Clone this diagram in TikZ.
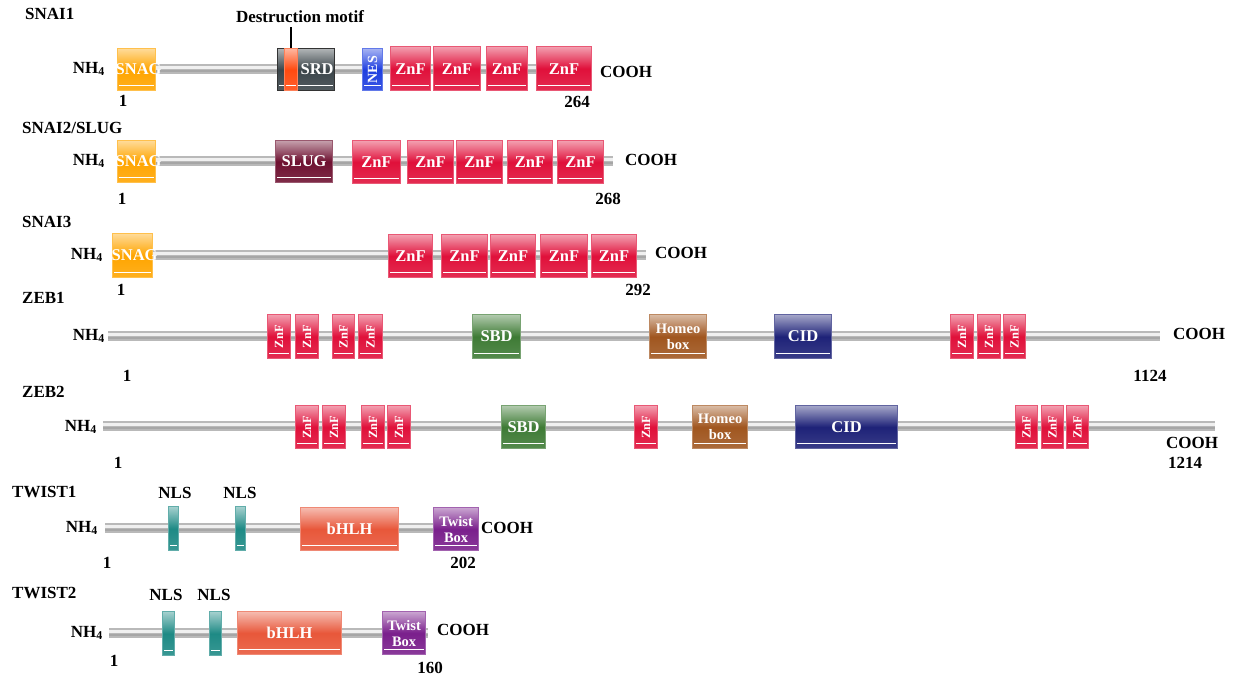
\documentclass[tikz,border=0pt]{standalone}
\usepackage{fontspec}
\setmainfont{Liberation Serif}
\definecolor{snagc}{HTML}{FFA500}
\definecolor{srdc}{HTML}{3B454A}
\definecolor{destc}{HTML}{FF4A10}
\definecolor{nesc}{HTML}{1F3FE0}
\definecolor{znfc}{HTML}{E0103A}
\definecolor{slugc}{HTML}{6E1030}
\definecolor{sbdc}{HTML}{3E7B35}
\definecolor{homc}{HTML}{A0561F}
\definecolor{cidc}{HTML}{1E2278}
\definecolor{nlsc}{HTML}{1E8A85}
\definecolor{bhlhc}{HTML}{E8573A}
\definecolor{twc}{HTML}{7A1F8C}
\newcommand\fT{\fontsize{17}{19}\selectfont\bfseries}
\newcommand\fB{\fontsize{16.5}{18}\selectfont\bfseries}
\newcommand\fS{\fontsize{12.5}{13}\selectfont\bfseries}
\newcommand\fH{\fontsize{14.5}{16}\selectfont\bfseries}
\newcommand\fN{\fontsize{14}{15}\selectfont\bfseries}
\begin{document}
\begin{tikzpicture}[x=1pt,y=-1pt,
  ttl/.style={font=\fT, anchor=west, inner sep=0pt},
  lbl/.style={font=\fT, inner sep=0pt},
  bb/.style={draw=gray!55, line width=10pt},
  bbhi/.style={draw=gray!12, line width=2.5pt},
  bblo/.style={draw=gray!70, line width=2pt},
  gloss/.style={path picture={\draw[white, line width=0.9pt]
      ([xshift=1.5pt,yshift=5pt]path picture bounding box.south west) --
      ([xshift=-1.5pt,yshift=5pt]path picture bounding box.south east);}},
  dom/.style={draw=#1!70!white, line width=1.2pt, top color=#1!40!white,
      bottom color=#1!88!white, middle color=#1, text=white, font=\fB,
      inner sep=0pt, anchor=north west, align=center, gloss},
  wh/.style 2 args={minimum width=#1pt, minimum height=#2pt},
  vt/.style={label={[rotate=90,font=\fS,text=white,inner sep=0pt]center:#1}},
  vn/.style={label={[rotate=90,font=\fN,text=white,inner sep=0pt]center:#1}},
  ct/.style={label={[font=\fB,text=white,inner sep=0pt,xshift=2pt]center:#1}},
  hb/.style={font=\fH}
]
\useasboundingbox (0,0) rectangle (1234,677);
\newcommand\backbone[2]{%
  \draw[bb] (#1) -- (#2);
  \draw[bbhi] ([yshift=1.5pt]#1) -- ([yshift=1.5pt]#2);
  \draw[bblo] ([yshift=-2pt]#1) -- ([yshift=-2pt]#2);}

% ---------------- SNAI1
\node[ttl] (t1) at (25,14) {SNAI1};
\node[lbl] (dm) at (300,17) {Destruction motif};
\node[lbl, anchor=east] (n1) at (105,69) {NH\textsubscript{4}};
\coordinate (b1s) at (130,69); \coordinate (b1e) at (591,69);
\backbone{b1s}{b1e}
\node[dom=snagc, wh={38}{42}, ct=SNAG] (s1a) at (117,48) {};
\node[dom=srdc, wh={57}{42}, draw=black!80] (s1d) at (277,48) {\hspace*{22pt}SRD};
\node[dom=destc, wh={13}{42}] (s1x) at (284,48) {};
\draw[line width=1.3pt, shorten <=4pt] (dm.south -| s1x.north) -- (s1x.north);
\node[dom=nesc, wh={20}{42}, vn=NES] (s1n) at (362,48) {};
\node[dom=znfc, wh={40}{44}] (s1z1) at (390,46) {ZnF};
\node[dom=znfc, wh={47}{44}] (s1z2) at (433,46) {ZnF};
\node[dom=znfc, wh={41}{44}] (s1z3) at (486,46) {ZnF};
\node[dom=znfc, wh={55}{44}] (s1z4) at (536,46) {ZnF};
\node[lbl] (c1) at (626,72) {COOH};
\node[lbl] (p1a) at (123,101) {1};
\node[lbl] (p1b) at (577,102) {264};

% ---------------- SNAI2
\node[ttl] (t2) at (22,128) {SNAI2/SLUG};
\node[lbl, anchor=east] (n2) at (105,161) {NH\textsubscript{4}};
\coordinate (b2s) at (130,161); \coordinate (b2e) at (613,161);
\backbone{b2s}{b2e}
\node[dom=snagc, wh={38}{42}, ct=SNAG] (s2a) at (117,140) {};
\node[dom=slugc, wh={57}{42}] (s2s) at (275,140) {SLUG};
\node[dom=znfc, wh={48}{43}] (s2z1) at (352,140) {ZnF};
\node[dom=znfc, wh={46}{43}] (s2z2) at (407,140) {ZnF};
\node[dom=znfc, wh={46}{43}] (s2z3) at (456,140) {ZnF};
\node[dom=znfc, wh={45}{43}] (s2z4) at (507,140) {ZnF};
\node[dom=znfc, wh={46}{43}] (s2z5) at (557,140) {ZnF};
\node[lbl] (c2) at (651,160) {COOH};
\node[lbl] (p2a) at (122,199) {1};
\node[lbl] (p2b) at (608,199) {268};

% ---------------- SNAI3
\node[ttl] (t3) at (22,222) {SNAI3};
\node[lbl, anchor=east] (n3) at (103,255) {NH\textsubscript{4}};
\coordinate (b3s) at (125,255); \coordinate (b3e) at (646,255);
\backbone{b3s}{b3e}
\node[dom=snagc, wh={40}{44}, ct=SNAG] (s3a) at (112,233) {};
\node[dom=znfc, wh={44}{43}] (s3z1) at (388,234) {ZnF};
\node[dom=znfc, wh={46}{43}] (s3z2) at (441,234) {ZnF};
\node[dom=znfc, wh={45}{43}] (s3z3) at (490,234) {ZnF};
\node[dom=znfc, wh={47}{43}] (s3z4) at (540,234) {ZnF};
\node[dom=znfc, wh={45}{43}] (s3z5) at (591,234) {ZnF};
\node[lbl] (c3) at (681,253) {COOH};
\node[lbl] (p3a) at (121,290) {1};
\node[lbl] (p3b) at (638,290) {292};

% ---------------- ZEB1
\node[ttl] (t4) at (22,298) {ZEB1};
\node[lbl, anchor=east] (n4) at (105,336) {NH\textsubscript{4}};
\coordinate (b4s) at (108,336); \coordinate (b4e) at (1160,336);
\backbone{b4s}{b4e}
\node[dom=znfc, wh={23}{44}, vt=ZnF] (z1a) at (267,314) {};
\node[dom=znfc, wh={23}{44}, vt=ZnF] (z1b) at (295,314) {};
\node[dom=znfc, wh={22}{44}, vt=ZnF] (z1c) at (332,314) {};
\node[dom=znfc, wh={24}{44}, vt=ZnF] (z1d) at (358,314) {};
\node[dom=sbdc, wh={48}{44}] (z1s) at (472,314) {SBD};
\node[dom=homc, wh={57}{44}, hb] (z1h) at (649,314) {Homeo\\box};
\node[dom=cidc, wh={57}{44}] (z1c2) at (774,314) {CID};
\node[dom=znfc, wh={23}{44}, vt=ZnF] (z1e) at (950,314) {};
\node[dom=znfc, wh={23}{44}, vt=ZnF] (z1f) at (977,314) {};
\node[dom=znfc, wh={22}{44}, vt=ZnF] (z1g) at (1003,314) {};
\node[lbl] (c4) at (1199,334) {COOH};
\node[lbl] (p4a) at (127,376) {1};
\node[lbl] (p4b) at (1150,376) {1124};

% ---------------- ZEB2
\node[ttl] (t5) at (22,392) {ZEB2};
\node[lbl, anchor=east] (n5) at (97,427) {NH\textsubscript{4}};
\coordinate (b5s) at (103,426); \coordinate (b5e) at (1215,426);
\backbone{b5s}{b5e}
\node[dom=znfc, wh={23}{43}, vt=ZnF] (z2a) at (295,405) {};
\node[dom=znfc, wh={23}{43}, vt=ZnF] (z2b) at (322,405) {};
\node[dom=znfc, wh={23}{43}, vt=ZnF] (z2c) at (361,405) {};
\node[dom=znfc, wh={23}{43}, vt=ZnF] (z2d) at (387,405) {};
\node[dom=sbdc, wh={44}{43}] (z2s) at (501,405) {SBD};
\node[dom=znfc, wh={23}{43}, vt=ZnF] (z2e) at (634,405) {};
\node[dom=homc, wh={55}{43}, hb] (z2h) at (692,405) {Homeo\\box};
\node[dom=cidc, wh={102}{43}] (z2c2) at (795,405) {CID};
\node[dom=znfc, wh={22}{43}, vt=ZnF] (z2f) at (1015,405) {};
\node[dom=znfc, wh={22}{43}, vt=ZnF] (z2g) at (1041,405) {};
\node[dom=znfc, wh={22}{43}, vt=ZnF] (z2i) at (1066,405) {};
\node[lbl] (c5) at (1192,443) {COOH};
\node[lbl] (p5a) at (118,463) {1};
\node[lbl] (p5b) at (1185,463) {1214};

% ---------------- TWIST1
\node[ttl] (t6) at (12,492) {TWIST1};
\node[lbl] (l6a) at (175,493) {NLS};
\node[lbl] (l6b) at (240,493) {NLS};
\node[lbl, anchor=east] (n6) at (98,528) {NH\textsubscript{4}};
\coordinate (b6s) at (105,528); \coordinate (b6e) at (433,528);
\backbone{b6s}{b6e}
\node[dom=nlsc, wh={10}{44}] (w1a) at (168,506) {};
\node[dom=nlsc, wh={10}{44}] (w1b) at (235,506) {};
\node[dom=bhlhc, wh={98}{43}] (w1h) at (300,507) {bHLH};
\node[dom=twc, wh={45}{43}, hb] (w1t) at (433,507) {Twist\\Box};
\node[lbl] (c6) at (507,528) {COOH};
\node[lbl] (p6a) at (107,563) {1};
\node[lbl] (p6b) at (463,563) {202};

% ---------------- TWIST2
\node[ttl] (t7) at (12,593) {TWIST2};
\node[lbl] (l7a) at (166,595) {NLS};
\node[lbl] (l7b) at (214,595) {NLS};
\node[lbl, anchor=east] (n7) at (103,633) {NH\textsubscript{4}};
\coordinate (b7s) at (109,633); \coordinate (b7e) at (428,633);
\backbone{b7s}{b7e}
\node[dom=nlsc, wh={12}{44}] (w2a) at (162,611) {};
\node[dom=nlsc, wh={12}{44}] (w2b) at (209,611) {};
\node[dom=bhlhc, wh={104}{43}] (w2h) at (237,611) {bHLH};
\node[dom=twc, wh={43}{43}, hb] (w2t) at (382,611) {Twist\\Box};
\node[lbl] (c7) at (463,630) {COOH};
\node[lbl] (p7a) at (114,661) {1};
\node[lbl] (p7b) at (430,668) {160};
\end{tikzpicture}
\end{document}
